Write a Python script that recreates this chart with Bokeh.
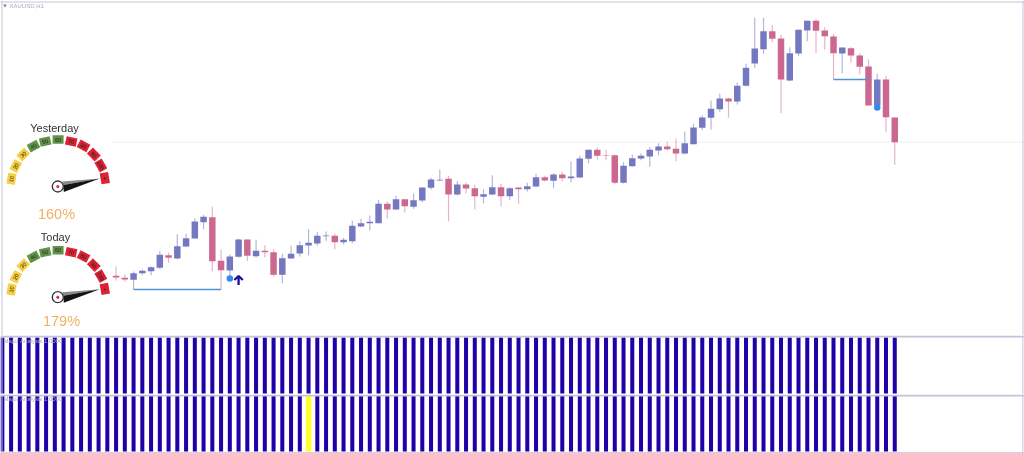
from bokeh.plotting import figure
from bokeh.layouts import column
from bokeh.models import Range1d, Span
from bokeh.core.properties import value
from bokeh.embed import file_html
from bokeh.resources import INLINE
import math

# ---- candles (price level, arbitrary units) ----
opens = [64.7,62.7,60.7,67.3,69.3,72.7,85.3,82,94,102,118.3,123.3,79.7,70,83.7,101,84.3,89.7,88.3,65.7,
         82,87,95,97,104.3,104.7,98.3,99.3,114,117.3,117.3,136.7,131,141.3,133.7,140,152.7,160,161.7,146,
         156,152.3,143.7,146,153.3,144.3,153,151.3,154,163.3,159.7,166,162.3,163,181.7,190.7,185.3,185.3,157.7,174.3,
         182,184,190,194,191.7,187,196.3,212.7,222.7,231.3,242,239,254.7,277,291.3,309.3,302,260,287,310,
         319.7,310,304,287,292.3,285,274,235,261,223]
closes = [63,61,67.3,69.7,73.3,85.7,82.7,94.3,102.3,119,123.7,79.3,70.3,84,101,84.7,89.7,88.3,65.7,82.3,
          86.7,95.3,97.7,104.7,105,98.3,100.7,114.7,117.3,118.7,136.7,131,141.3,134.3,140.3,153,161,160.7,146,156,
          152,144.3,146.3,153.3,144.3,152.3,151.3,154.3,163.3,160,166,162.3,164,182,190.7,184.7,184.7,157.7,174.7,182.3,
          184.7,190.7,194,191.3,187,197.3,213,223,231.7,242,239,254.7,272.7,292,309.3,301.7,261,287.3,310.7,319.7,
          309.7,304.3,287.3,293,285,273.7,235,261,223.3,198.3]
highs = [74,66,69,71,74.3,89.7,87.7,106.3,106.7,122.3,125.7,134,91,86,101.7,101,100.7,95.3,91.3,86.7,
         94.7,99.3,111.3,108.7,109,106.7,102.7,119.7,121.7,125,140.7,139,144.7,141.7,147,153.3,162.7,171,164.7,159.3,
         158,155.7,151.3,165.3,156.7,153.3,153,157.7,166.7,164.7,167.3,168.7,179,184.7,191,193,190.7,186,178.3,186,
         187.3,193.3,197.3,198.7,201.7,209,216.7,225,240,246.7,242.7,258,276.7,322.7,322.7,315.3,305.7,293.3,310.7,320,
         321.7,313.3,306.7,293.3,293.3,287.3,281.3,266.7,264.7,223.3]
lows = [60,58.7,51,65.3,65.3,71.3,77.7,81.3,93.7,101.7,111.3,69.3,51,64,83,79.3,82.7,83.3,64,57.3,
        82,84,85.3,94.7,99.7,91.3,96,97.3,113.3,110,117.3,122.3,131,128,131.7,138.3,150.7,159.3,119.3,145,
        147.3,131,137.3,145.3,134,140.3,136.7,149,153.3,159.3,152.3,159.3,158.3,162.7,177.3,181,180.3,156.3,157,174,
        180.3,173.7,185.3,190,179.3,186.3,196.3,210.3,211,228.7,222.7,236,254.3,272.7,286.7,298.3,227.3,259.3,284.3,299.3,
        287.3,291,261,267.3,278,266,235,233.3,208.3,175.7]
last_price_level = 198.5
pivot_levels = [51, 261]
pivot_from = [2, 82]
pivot_to = [12, 86]
dot_index = [13, 87]
dot_level = [62, 233]
arrow_index = [14]
arrow_level = [60]

# ---- indicator panes ----
bar_index = list(range(-13, 90))
yellow_bar_lower = [22]

# ---- gauges ----
gauge_labels = ["10","20","30","40","50","60","70","80","90","100","+"]
gauge_colors = ["#f6cf45"]*3 + ["#62934a"]*3 + ["#dc2234"]*5
gauge_titles = ["Yesterday", "Today"]
gauge_values = ["160%", "179%"]

BLUE, PINK = "#7478c0", "#cc6890"
BLUE_W, PINK_W = "#b4b6dc", "#e6b4c8"
X0, X1 = -13.21, 103.83
LINE = "#c4c4da"


def base(h, y0, y1):
    f = figure(width=1024, height=h, toolbar_location=None, output_backend="svg",
               x_range=Range1d(X0, X1), y_range=Range1d(y0, y1),
               min_border=0, min_border_left=0, min_border_right=0, min_border_top=0, min_border_bottom=0)
    f.axis.visible = False
    f.grid.visible = False
    f.outline_line_color = None
    f.background_fill_color = "white"
    return f


p = base(335, 5, 340)
p.extra_x_ranges = {"px": Range1d(0, 1024)}
p.extra_y_ranges = {"px": Range1d(335, 0)}
PX = dict(x_range_name="px", y_range_name="px")

idx = list(range(len(opens)))
up = [c >= o for o, c in zip(opens, closes)]
p.segment(x0=[-0.4], x1=[X1], y0=[last_price_level], y1=[last_price_level], line_color="#eeeeee", line_width=1)
p.segment(x0=idx, x1=idx, y0=lows, y1=highs, line_width=1.2,
          line_color=[BLUE_W if u else PINK_W for u in up])
p.vbar(x=idx, width=0.74, bottom=opens, top=closes,
       fill_color=[BLUE if u else PINK for u in up], line_color=None)
p.segment(x0=pivot_from, x1=pivot_to, y0=pivot_levels, y1=pivot_levels, line_color="#4f94d8", line_width=1.3)
p.scatter(x=dot_index, y=dot_level, size=6.5, marker="circle", fill_color="#2f8cf0", line_color=None)
ax, ay = arrow_index[0], arrow_level[0]
p.multi_line(xs=[[ax, ax], [ax-0.48, ax, ax+0.48]], ys=[[ay-4.5, ay+4.5], [ay+0.5, ay+4.5, ay+0.5]],
             line_color="#1a0c9c", line_width=2.3)

# gauge geometry, screen pixels from each gauge's hub
seg_dx = [-46.3,-42,-34.6,-24.3,-12.6,0.3,13.4,25.7,36,43,47]
seg_dy = [-7.7,-20.3,-32,-40.3,-45,-47,-45,-40.7,-32,-21,-8.3]
seg_rot = [80,62,45,28,12,0,-12,-28,-45,-60,-80]
label_rot = [80,62,45,28,12,0,-12,-28,-45,-60,0]
hubs = [(57.3, 186.0), (57.3, 296.7)]
title_pos = [(54, 127), (55, 236)]
value_pos = [(56, 213), (61, 320)]
for k, (hx, hy) in enumerate(hubs):
    sx = [hx + d for d in seg_dx]
    sy = [hy + d for d in seg_dy]
    p.rect(x=sx, y=sy, width=11, height=8.5, width_units="screen", height_units="screen",
           angle=seg_rot, angle_units="deg", fill_color=gauge_colors, line_color=None, **PX)
    p.text(x=sx, y=sy, text=gauge_labels, angle=[math.radians(r) for r in label_rot],
           text_font=value("Liberation Sans"), text_font_size="5.5px", text_color="#222222",
           text_align="center", text_baseline="middle", **PX)
    # needle
    p.patch(x=[hx+42, hx+4.4, hx+5.5], y=[hy-8, hy-5, hy-1.5], fill_color="#8c8c8c", line_color=None, **PX)
    p.patch(x=[hx+42, hx+5.5, hx+6], y=[hy-8, hy-1.5, hy+5.5], fill_color="#141414", line_color=None, **PX)
    p.scatter(x=[hx], y=[hy], size=11, marker="circle", fill_color="white", line_color="#333333", line_width=1.3, **PX)
    p.scatter(x=[hx], y=[hy], size=3, marker="circle", fill_color="#e0263c", line_color=None, **PX)
    p.text(x=[title_pos[k][0]], y=[title_pos[k][1]], text=[gauge_titles[k]], text_font=value("Liberation Sans"),
           text_font_size="11px", text_color="#333333", text_align="center", text_baseline="middle", **PX)
    p.text(x=[value_pos[k][0]], y=[value_pos[k][1]], text=[gauge_values[k]], text_font=value("Liberation Sans"),
           text_font_size="14.5px", text_color="#f0b062", text_align="center", text_baseline="middle", **PX)

# symbol caption
p.scatter(x=[4.5], y=[5], size=3.5, marker="inverted_triangle", fill_color="#777799", line_color=None, **PX)
p.text(x=[9], y=[5], text=["XAUUSD,H1"], text_font=value("Liberation Sans"), text_font_size="6px",
       text_color="#a8a8b8", text_align="left", text_baseline="middle", **PX)
# frame of the price pane
p.multi_line(xs=[[1.5, 1.5], [0, 1024], [1022.5, 1022.5]], ys=[[0, 335], [1.5, 1.5], [0, 335]],
             line_color=LINE, line_width=1, **PX)


def pane(h, y0, y1, colors, widths, caption):
    f = base(h, y0, y1)
    f.vbar(x=bar_index, width=widths, bottom=0, top=1, fill_color=colors, line_color=None)
    f.add_layout(Span(location=1022.5 / 8.7503 + X0, dimension="height", line_color=LINE, line_width=1))
    f.add_layout(Span(location=1.5 / 8.7503 + X0, dimension="height", line_color=LINE, line_width=1))
    f.text(x=[X0 + 0.35], y=[0.93], text=[caption], text_font=value("Liberation Sans"), text_font_size="6px",
           text_color="#a8a8c0", text_align="left", text_baseline="middle")
    return f


upper_colors = ["#2000a8"] * len(bar_index)
lower_colors = ["#ffff22" if i in yellow_bar_lower else "#2000a8" for i in bar_index]
upper_widths = [0.46] * len(bar_index)
lower_widths = [0.6 if i in yellow_bar_lower else 0.46 for i in bar_index]
q = pane(59, -0.018, 1.036, upper_colors, upper_widths, "Major Analysis 1.0000")
r = pane(59, -0.036, 1.018, lower_colors, lower_widths, "Major Analysis 1.0000")
for f, loc in ((q, 1.018), (r, 1.0)):
    f.add_layout(Span(location=loc, dimension="width", line_color="#c4c4d8", line_width=2))
r.add_layout(Span(location=-0.025, dimension="width", line_color=LINE, line_width=1.5))

page = column(p, q, r, spacing=0)
page.styles = {"position": "fixed", "left": "0px", "top": "0px"}
open("out.html", "w").write(file_html(page, INLINE))
